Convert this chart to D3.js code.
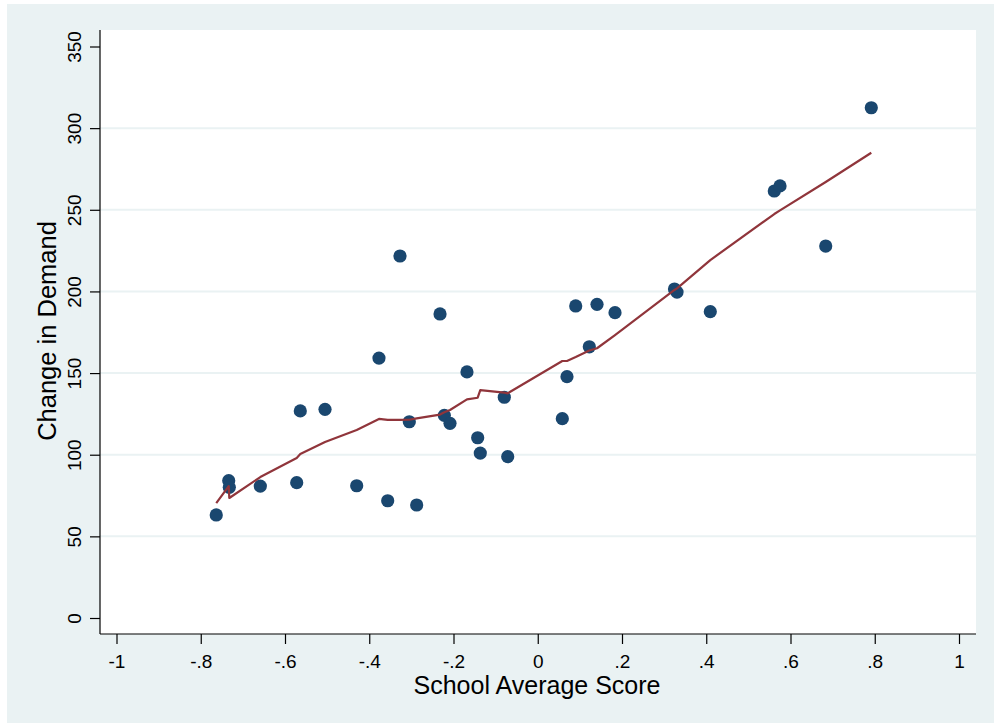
<!DOCTYPE html>
<html>
<head>
<meta charset="utf-8">
<script src="https://cdn.jsdelivr.net/npm/d3@7"></script>
<style>
  html, body { margin: 0; padding: 0; background: #ffffff; }
  svg { display: block; }
  text { font-family: "Liberation Sans", Arial, sans-serif; fill: #000; }
</style>
</head>
<body>
<svg id="chart" width="994" height="723"></svg>
<script>
// ---- data ----
const scoreX = [-0.7632, -0.7336, -0.7322, -0.6586, -0.5722, -0.5637, -0.5050, -0.4298, -0.3769, -0.3562,
  -0.3270, -0.3049, -0.2874, -0.2320, -0.2218, -0.2083, -0.1680, -0.1426, -0.1364, -0.0794,
  -0.0713, 0.0583, 0.0694, 0.0901, 0.1224, 0.1407, 0.1834, 0.3246, 0.3306, 0.4096,
  0.5615, 0.5751, 0.6836, 0.7918];
const demandY = [63.1, 84.1, 80.0, 80.8, 82.9, 126.8, 127.8, 81.0, 159.2, 71.8,
  221.7, 120.2, 69.2, 186.2, 124.1, 119.2, 150.7, 110.4, 101.0, 135.2,
  98.8, 122.1, 147.8, 191.1, 166.1, 192.1, 187.0, 201.5, 199.6, 187.6,
  261.5, 264.6, 227.8, 312.5];
const fitY = [70.4, 80.8, 73.5, 86.3, 98.0, 100.4, 107.8, 115.1, 121.9, 121.3,
  121.3, 121.4, 122.3, 124.6, 126.0, 127.4, 133.9, 134.9, 139.6, 138.0,
  137.6, 157.4, 157.4, 159.8, 163.8, 165.2, 173.3, 200.9, 201.9, 219.2,
  247.4, 249.6, 267.0, 284.9];
const xTicks = [-1, -0.8, -0.6, -0.4, -0.2, 0, 0.2, 0.4, 0.6, 0.8, 1];
const xTickLabels = ["-1", "-.8", "-.6", "-.4", "-.2", "0", ".2", ".4", ".6", ".8", "1"];
const yTicks = [0, 50, 100, 150, 200, 250, 300, 350];
const yGrid = [50, 100, 150, 200, 250, 300];
const xTitle = "School Average Score";
const yTitle = "Change in Demand";

// ---- layout ----
const svg = d3.select("#chart");
const plot = { left: 100, right: 976, top: 30, bottom: 634 };
const x = d3.scaleLinear().domain([-1, 1]).range([116.5, 959]);
const y = d3.scaleLinear().domain([0, 350]).range([618, 46.5]);

// outer background
svg.append("rect").attr("x", 7).attr("y", 4).attr("width", 994 - 7).attr("height", 723 - 4)
  .attr("fill", "#eaf2f3");
// plot region
svg.append("rect").attr("x", plot.left).attr("y", plot.top)
  .attr("width", plot.right - plot.left).attr("height", plot.bottom - plot.top)
  .attr("fill", "#ffffff");

// grid
svg.append("g").selectAll("line").data(yGrid).join("line")
  .attr("x1", plot.left).attr("x2", plot.right)
  .attr("y1", d => y(d)).attr("y2", d => y(d))
  .attr("stroke", "#eaf2f3").attr("stroke-width", 2);

// y axis
const yAxis = svg.append("g").attr("transform", `translate(${plot.left},0)`)
  .call(d3.axisLeft(y).tickValues(yTicks).tickSize(10).tickPadding(0).tickFormat(d3.format("d")));
yAxis.select(".domain").attr("d", `M0,${plot.top}V${plot.bottom}`).attr("stroke", "#000").attr("stroke-width", 1.2);
yAxis.selectAll(".tick line").attr("stroke", "#000").attr("stroke-width", 1.2);
yAxis.selectAll(".tick text")
  .attr("transform", "rotate(-90)")
  .attr("x", 0).attr("y", -19).attr("dy", 0)
  .attr("text-anchor", "middle")
  .style("font-family", "'Liberation Sans', Arial, sans-serif")
  .style("font-size", "19px").attr("fill", "#000");

// x axis
const xAxis = svg.append("g").attr("transform", `translate(0,${plot.bottom})`)
  .call(d3.axisBottom(x).tickValues(xTicks).tickSize(10).tickPadding(0)
    .tickFormat((d, i) => xTickLabels[i]));
xAxis.select(".domain").attr("d", `M${plot.left},0H${plot.right}`).attr("stroke", "#000").attr("stroke-width", 1.2);
xAxis.selectAll(".tick line").attr("stroke", "#000").attr("stroke-width", 1.2);
xAxis.selectAll(".tick text")
  .attr("y", 34).attr("dy", 0)
  .style("font-family", "'Liberation Sans', Arial, sans-serif")
  .style("font-size", "19px").attr("fill", "#000");

// titles
svg.append("text").attr("x", 537).attr("y", 694).attr("text-anchor", "middle")
  .style("font-size", "25px").text(xTitle);
svg.append("text").attr("transform", "translate(56,331) rotate(-90)").attr("text-anchor", "middle")
  .style("font-size", "25.5px").text(yTitle);

// points
const pts = scoreX.map((v, i) => ({ x: v, y: demandY[i] }));
svg.append("g").selectAll("circle").data(pts).join("circle")
  .attr("cx", d => x(d.x)).attr("cy", d => y(d.y)).attr("r", 6.6)
  .attr("fill", "#1a476f");

// fitted line
const fit = scoreX.map((v, i) => [v, fitY[i]]);
svg.append("path").datum(fit)
  .attr("d", d3.line().x(d => x(d[0])).y(d => y(d[1])))
  .attr("fill", "none").attr("stroke", "#90353b").attr("stroke-width", 2.2)
  .attr("stroke-linejoin", "round");
</script>
</body>
</html>
